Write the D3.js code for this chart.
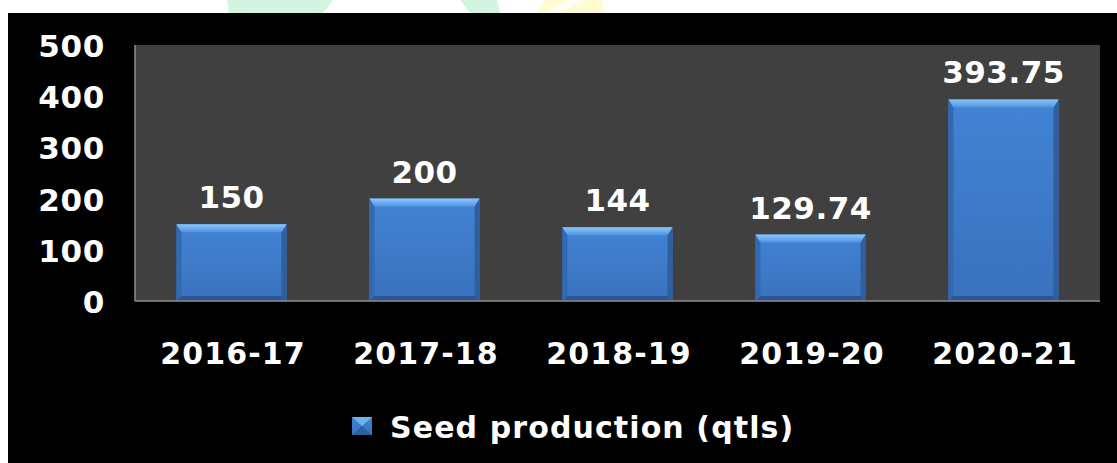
<!DOCTYPE html>
<html>
<head>
<meta charset="utf-8">
<script src="https://cdn.jsdelivr.net/npm/d3@7"></script>
<style>
  html, body { margin: 0; padding: 0; background: #fff; }
  svg { display: block; }
</style>
</head>
<body>
<div id="chart"></div>
<script>
// Seed production bar chart, black panel with dark plot area and bevelled bars.

const categories = ["2016-17", "2017-18", "2018-19", "2019-20", "2020-21"];
const seedValues = [150, 200, 144, 129.74, 393.75];
const valueLabels = ["150", "200", "144", "129.74", "393.75"];
const yTicks = [0, 100, 200, 300, 400, 500];
const seriesName = "Seed production (qtls)";

const W = 1117, H = 463;
const FONT = "'DejaVu Sans', Verdana, sans-serif";
const plot = { left: 135, right: 1100, top: 45, bottom: 301 };

const svg = d3.select("#chart").append("svg")
  .attr("width", W).attr("height", H)
  .attr("viewBox", `0 0 ${W} ${H}`);

const defs = svg.append("defs");

const bodyGrad = defs.append("linearGradient")
  .attr("id", "barBody").attr("x1", 0).attr("y1", 0).attr("x2", 0).attr("y2", 1);
bodyGrad.append("stop").attr("offset", "0%").attr("stop-color", "#4283d4");
bodyGrad.append("stop").attr("offset", "100%").attr("stop-color", "#3a72bd");

const topGrad = defs.append("linearGradient")
  .attr("id", "barTop").attr("x1", 0).attr("y1", 0).attr("x2", 0).attr("y2", 1);
topGrad.append("stop").attr("offset", "0%").attr("stop-color", "#8cc6fa");
topGrad.append("stop").attr("offset", "100%").attr("stop-color", "#4f92e2");

// faint watermark shapes above the panel
svg.append("polygon")
  .attr("points", "227,0 333,0 323,13 229,13")
  .attr("fill", "#d3f5e0");
svg.append("polygon")
  .attr("points", "460,0 497,0 500,13 470,13")
  .attr("fill", "#d3f5e0");
svg.append("polygon")
  .attr("points", "545,0 602,0 604,13 537,13")
  .attr("fill", "#fffbd2");
svg.append("polygon")
  .attr("points", "566,0 586,0 560,13 545,13")
  .attr("fill", "#ffffff").attr("opacity", 0.7);

// black chart panel
svg.append("rect")
  .attr("x", 8).attr("y", 13)
  .attr("width", W - 8).attr("height", H - 13)
  .attr("fill", "#000");

const x = d3.scaleBand()
  .domain(categories)
  .range([plot.left, plot.right])
  .paddingInner(0.43)
  .paddingOuter(0.215);

const y = d3.scaleLinear()
  .domain([0, 500])
  .range([plot.bottom, plot.top]);

// plot area
svg.append("rect")
  .attr("x", plot.left).attr("y", plot.top)
  .attr("width", plot.right - plot.left)
  .attr("height", plot.bottom - plot.top)
  .attr("fill", "#404040");

// bars with bevel
const bw = x.bandwidth();
const bt = 8, bs = 5, bb = 5;

seedValues.forEach((v, i) => {
  const x0 = x(categories[i]);
  const x1 = x0 + bw;
  const y0 = y(v);
  const y1 = y(0);
  const g = svg.append("g");

  g.append("rect")
    .attr("x", x0).attr("y", y0)
    .attr("width", bw).attr("height", y1 - y0)
    .attr("fill", "url(#barBody)");

  // left side
  g.append("polygon")
    .attr("points", `${x0},${y0} ${x0 + bs},${y0 + bt} ${x0 + bs},${y1 - bb} ${x0},${y1}`)
    .attr("fill", "#3369b2");
  // right side
  g.append("polygon")
    .attr("points", `${x1},${y0} ${x1 - bs},${y0 + bt} ${x1 - bs},${y1 - bb} ${x1},${y1}`)
    .attr("fill", "#2f5f9f");
  // bottom
  g.append("polygon")
    .attr("points", `${x0},${y1} ${x0 + bs},${y1 - bb} ${x1 - bs},${y1 - bb} ${x1},${y1}`)
    .attr("fill", "#2b5693");
  // top highlight
  g.append("polygon")
    .attr("points", `${x0},${y0} ${x1},${y0} ${x1 - bs},${y0 + bt} ${x0 + bs},${y0 + bt}`)
    .attr("fill", "url(#barTop)");

  svg.append("text")
    .attr("x", x0 + bw / 2)
    .attr("y", y0 - 16)
    .attr("text-anchor", "middle")
    .attr("fill", "#fff")
    .attr("font-family", FONT)
    .attr("font-weight", "bold")
    .attr("font-size", "31px")
    .attr("letter-spacing", "0.5px")
    .text(valueLabels[i]);
});

// axis lines
svg.append("line")
  .attr("x1", plot.left).attr("x2", plot.left)
  .attr("y1", plot.top).attr("y2", plot.bottom)
  .attr("stroke", "#8c8c8c").attr("stroke-width", 1.5);
svg.append("line")
  .attr("x1", plot.left).attr("x2", plot.right)
  .attr("y1", plot.bottom).attr("y2", plot.bottom)
  .attr("stroke", "#8c8c8c").attr("stroke-width", 1.5);

// y tick labels
yTicks.forEach(t => {
  svg.append("text")
    .attr("x", 105)
    .attr("y", y(t) + 12)
    .attr("text-anchor", "end")
    .attr("fill", "#fff")
    .attr("font-family", FONT)
    .attr("font-weight", "bold")
    .attr("font-size", "31px")
    .attr("letter-spacing", "0.7px")
    .text(t);
});

// x tick labels
categories.forEach(c => {
  svg.append("text")
    .attr("x", x(c) + bw / 2 + 1.5)
    .attr("y", 363.5)
    .attr("text-anchor", "middle")
    .attr("fill", "#fff")
    .attr("font-family", FONT)
    .attr("font-weight", "bold")
    .attr("font-size", "30px")
    .attr("letter-spacing", "1.1px")
    .text(c);
});

// legend
const lg = svg.append("g").attr("transform", "translate(352,417)");
lg.append("rect").attr("width", 20).attr("height", 18).attr("fill", "url(#barBody)");
lg.append("polygon").attr("points", "0,0 20,0 10,9").attr("fill", "#6fb0f0");
lg.append("polygon").attr("points", "0,18 20,18 10,9").attr("fill", "#2f5f9f");
lg.append("text")
  .attr("x", 38).attr("y", 20.5)
  .attr("fill", "#fff")
  .attr("font-family", FONT)
  .attr("font-weight", "bold")
  .attr("font-size", "30px")
  .attr("letter-spacing", "1.1px")
  .text(seriesName);
</script>
</body>
</html>
